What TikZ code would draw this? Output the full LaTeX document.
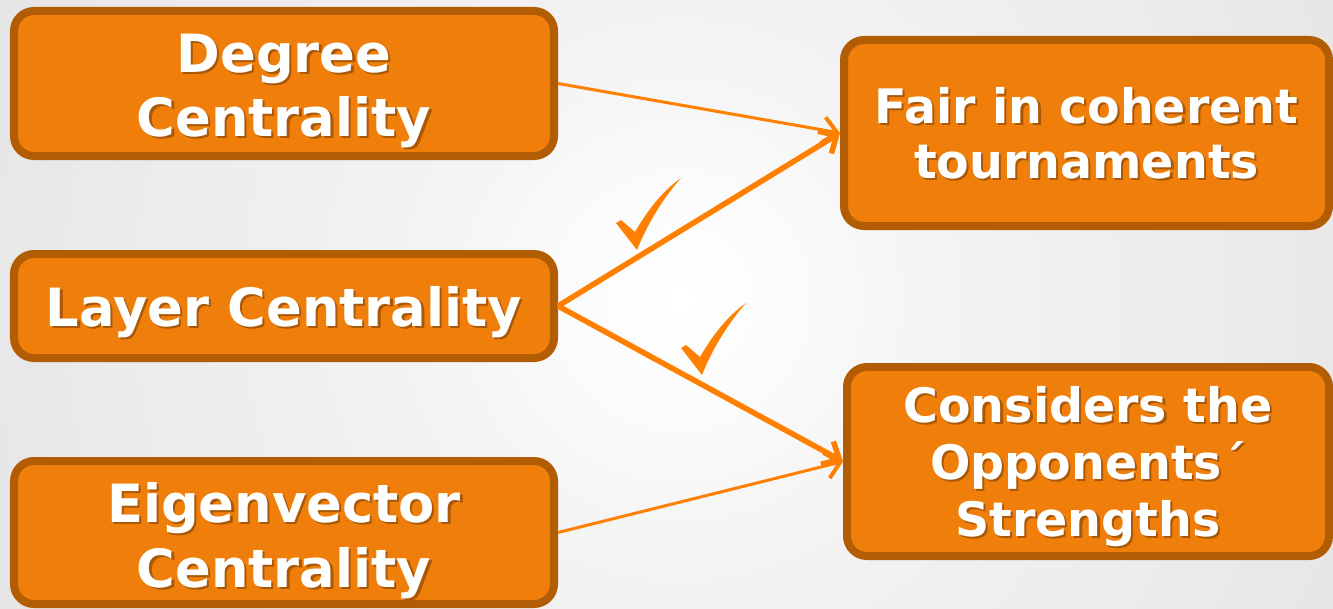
\documentclass[tikz,border=0pt]{standalone}
\usepackage{fontspec}
\newfontfamily\boxfont{DejaVu Sans}
\usetikzlibrary{arrows.meta}
\definecolor{boxfill}{HTML}{EF7F0A}
\definecolor{boxline}{HTML}{B25C04}
\definecolor{arrowc}{HTML}{FF8000}
\definecolor{shadowc}{HTML}{A85808}
\definecolor{bga}{HTML}{FBFBFB}
\definecolor{bgb}{HTML}{F3F3F3}
\definecolor{bgc}{HTML}{ECECEC}
\definecolor{bgd}{HTML}{E5E5E5}
\definecolor{bge}{HTML}{D5D5D5}
\definecolor{bgf}{HTML}{D0D0D0}
\pgfdeclareradialshading{bgshade}{\pgfpoint{0bp}{0bp}}{color(0bp)=(white); color(4bp)=(bga); color(9bp)=(bgb); color(18bp)=(bgc); color(26bp)=(bgd); color(46bp)=(bge); color(52bp)=(bgf); color(72bp)=(bgf)}
\newcommand\shl[1]{\makebox[0pt][l]{\kern2.2bp\raisebox{-2.2bp}{\textcolor{shadowc}{#1}}}#1}
\newcommand\fst[1]{\rule{0pt}{#1}}
\begin{document}
\begin{tikzpicture}[x=1bp,y=-1bp,
  box/.style={draw=boxline, fill=boxfill, line width=8bp, rounded corners=20bp,
    text=white, font=\boxfont\bfseries\fontsize{52.7bp}{64bp}\selectfont,
    align=center, inner sep=0pt},
  thinarrow/.style={draw=arrowc, line width=3bp, -{Straight Barb[length=14bp,width=26bp,line width=4bp]}},
  thickarrow/.style={draw=arrowc, line width=5.5bp, -{Straight Barb[length=14bp,width=26bp]}},
  checkmark/.pic={\fill[arrowc] (1,45) -- (6,42) -- (20,54) .. controls (34,30) and (48,13) .. (66,0) .. controls (50,18) and (33,44) .. (22,72) -- cycle;}
]
\useasboundingbox (0,0) rectangle (1333,609);
\begin{scope}
  \clip (0,0) rectangle (1333,609);
  \shade[shading=bgshade] (-60,-440) rectangle (1420,1040);
\end{scope}

\node[box, minimum width=540bp, minimum height=145bp] (deg) at (284,83.5)
  {\fst{55.4bp}\shl{Degree}\\\shl{Centrality}};
\node[box, minimum width=540bp, minimum height=104bp] (lay) at (284,306)
  {\fst{54.4bp}\shl{Layer Centrality}};
\node[box, minimum width=540bp, minimum height=143bp,
  font=\boxfont\bfseries\fontsize{52.7bp}{65bp}\selectfont] (eig) at (284,532.5)
  {\fst{58.4bp}\shl{Eigenvector}\\\shl{Centrality}};
\node[box, minimum width=485bp, minimum height=186bp,
  font=\boxfont\bfseries\fontsize{47.5bp}{55bp}\selectfont] (fair) at (1086.5,133)
  {\fst{39bp}\shl{Fair in coherent}\\\shl{tournaments}};
\node[box, minimum width=482bp, minimum height=189bp,
  font=\boxfont\bfseries\fontsize{47.5bp}{57bp}\selectfont] (cons) at (1088,461.5)
  {\fst{48.2bp}\shl{Considers the}\\\shl{Opponents´}\\\shl{Strengths}};

\draw[thinarrow] (deg.east) -- (fair.west);
\draw[thickarrow] (lay.east) -- (fair.west);
\draw[thickarrow] (lay.east) -- (cons.west);
\draw[thinarrow] (eig.east) -- (cons.west);

\pic at (615,178) {checkmark};
\pic at (680,303) {checkmark};
\end{tikzpicture}
\end{document}
